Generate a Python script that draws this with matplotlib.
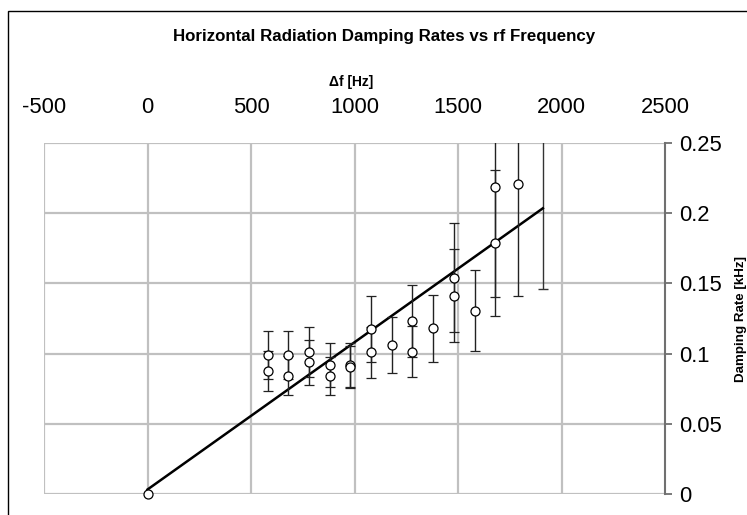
"""Horizontal radiation damping rates vs rf frequency (Excel-style chart)."""
import matplotlib
matplotlib.use("Agg")
import matplotlib.pyplot as plt
from matplotlib.patches import Rectangle

plt.rcParams["font.family"] = ["Liberation Sans", "DejaVu Sans"]
plt.rcParams["axes.unicode_minus"] = False

# measured damping rates (kHz) vs rf offset (Hz), with symmetric errors
freq = [580, 580, 680, 680, 780, 780, 880, 880, 980, 980,
        1080, 1080, 1180, 1280, 1280, 1380, 1480, 1480, 1580,
        1680, 1680, 1790]
rate = [0.0992, 0.0878, 0.0992, 0.0843, 0.1009, 0.0938, 0.0919, 0.0840,
        0.0919, 0.0902, 0.1175, 0.1009, 0.1063, 0.1234, 0.1014, 0.1180,
        0.1541, 0.1412, 0.1306, 0.2184, 0.1786, 0.2208]
err = [0.0171, 0.0144, 0.0171, 0.0138, 0.0178, 0.0161, 0.0154, 0.0133,
       0.0154, 0.0150, 0.0235, 0.0181, 0.0198, 0.0255, 0.0183, 0.0240,
       0.0387, 0.0330, 0.0286, 0.0783, 0.0520, 0.0798]

# reference point at zero offset
zero_f = [0]
zero_rate = [0.0]

# error bar drawn at the end of the fit (no marker)
end_f = [1910]
end_rate = [0.2035]
end_err = [0.0573]

# linear fit
fit_f = [0, 1910]
fit_rate = [0.0032, 0.2035]

fig = plt.figure(figsize=(7.47, 5.15), dpi=100)
ax = fig.add_axes([44 / 747, 21 / 515, 621 / 747, 351 / 515])

grid_c = "#c0c0c0"
for xv in [-500, 0, 500, 1000, 1500, 2000]:
    ax.axvline(xv, color=grid_c, lw=1.6, zorder=0)
for yv in [0, 0.05, 0.1, 0.15, 0.2, 0.25]:
    ax.axhline(yv, color=grid_c, lw=1.6, zorder=0)

ax.plot(fit_f, fit_rate, color="black", lw=1.8, zorder=3)
ax.errorbar(end_f, end_rate, yerr=end_err, fmt="none", ecolor="#333333",
            elinewidth=1.0, capsize=3.5, capthick=1.0, zorder=2)
ax.errorbar(freq, rate, yerr=err, fmt="o", color="black", ecolor="#222222",
            elinewidth=1.0, capsize=3.5, capthick=1.0, ms=6.5, mfc="white",
            mec="black", mew=0.9, zorder=4)
ax.plot(zero_f, zero_rate, "o", ms=6.5, mfc="white", mec="black", mew=0.9,
        zorder=5, clip_on=False)

ax.set_xlim(-500, 2500)
ax.set_ylim(0, 0.25)
ax.set_xticks([-500, 0, 500, 1000, 1500, 2000, 2500])
ax.set_yticks([0, 0.05, 0.1, 0.15, 0.2, 0.25])
ax.set_yticklabels(["0", "0.05", "0.1", "0.15", "0.2", "0.25"])

for s in ["left", "top", "bottom"]:
    ax.spines[s].set_visible(False)
ax.spines["right"].set_color("#707070")
ax.spines["right"].set_linewidth(1.5)

ax.xaxis.set_ticks_position("top")
ax.tick_params(axis="x", length=0, pad=18, labelsize=15.8,
               labeltop=True, labelbottom=False)
ax.yaxis.set_ticks_position("right")
ax.tick_params(axis="y", direction="out", length=5, width=1.3,
               color="#707070", pad=5, labelsize=15.8,
               labelright=True, labelleft=False)

fig.text(384 / 747, 1 - 37 / 515, "Horizontal Radiation Damping Rates vs rf Frequency",
         ha="center", va="center", fontsize=12.2, fontweight="bold")
fig.text(351 / 747, 1 - 82 / 515, "Δf [Hz]", ha="center", va="center",
         fontsize=10, fontweight="bold")
fig.text(741 / 747, 1 - 319 / 515, "Damping Rate [kHz]", ha="center",
         va="center", rotation=90, fontsize=9.6, fontweight="bold")

# chart area border (runs off the right and bottom edges)
fig.patches.append(Rectangle((8 / 747, -0.1), 1.2, 0.1 + 1 - 10.5 / 515,
                             transform=fig.transFigure, fill=False,
                             ec="black", lw=1.0))

fig.savefig("out.png", dpi=100)
